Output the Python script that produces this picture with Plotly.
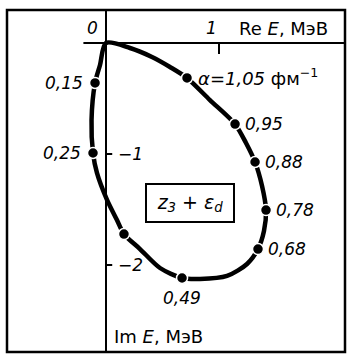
import plotly.graph_objects as go

# Trajectory of the three-body pole z3 + eps_d in the complex energy plane (MeV)
alpha_labels = ["1,05", "0,95", "0,88", "0,78", "0,68", "0,49", "", "0,25", "0,15"]
dot_re = [0.717, 1.142, 1.319, 1.416, 1.345, 0.673, 0.159, -0.115, -0.097]
dot_im = [-0.315, -0.730, -1.072, -1.505, -1.856, -2.117, -1.721, -0.991, -0.360]

# Points along the drawn curve, starting and ending at the origin
curve_re = [0.0, 0.212, 0.407, 0.566, 0.717, 0.920, 1.142, 1.239, 1.319, 1.381, 1.416,
            1.398, 1.345, 1.248, 1.071, 0.832, 0.673, 0.478, 0.301, 0.159, 0.097,
            0.009, -0.080, -0.115, -0.128, -0.097, -0.053, 0.0]
curve_im = [0.0, -0.045, -0.126, -0.216, -0.315, -0.514, -0.730, -0.901, -1.072, -1.288,
            -1.505, -1.694, -1.856, -1.991, -2.099, -2.126, -2.117, -2.027, -1.856,
            -1.721, -1.595, -1.414, -1.171, -0.991, -0.694, -0.360, -0.198, 0.0]

re_ticks = [0, 1]
re_tick_labels = ["0", "1"]
im_ticks = [-1, -2]
im_tick_labels = ["\u22121", "\u22122"]

W, H = 350, 356
# pixel calibration of the plotting plane
X0, XS = 106, 113
Y0, YS = 43, 111
xr = [(0 - X0) / XS, (W - X0) / XS]
yr = [-(H - Y0) / YS, Y0 / YS]

FONT = "DejaVu Sans"
fs = 17
INK = "black"


def f(size=fs):
    return dict(size=size, family=FONT, color=INK)


fig = go.Figure()
fig.add_trace(go.Scatter(x=curve_re, y=curve_im, mode="lines",
                         line=dict(color=INK, width=4.5, shape="spline", smoothing=0.8),
                         hoverinfo="skip", showlegend=False))
fig.add_trace(go.Scatter(x=dot_re, y=dot_im, mode="markers",
                         marker=dict(color=INK, size=11, line=dict(color="white", width=1.5)),
                         showlegend=False))

shapes = []
# outer frame
shapes.append(dict(type="rect", xref="paper", yref="paper",
                   x0=7 / W, x1=345 / W, y0=1 - 352 / H, y1=1 - 10 / H,
                   line=dict(color=INK, width=2.5)))
# imaginary axis
shapes.append(dict(type="line", xref="x", yref="paper", x0=0, x1=0,
                   y0=1 - 352 / H, y1=1 - 10 / H, line=dict(color=INK, width=2)))
# real axis
shapes.append(dict(type="line", xref="x", yref="y", x0=-0.2, x1=(345 - X0) / XS,
                   y0=0, y1=0, line=dict(color=INK, width=2)))
for t in re_ticks[1:]:
    shapes.append(dict(type="line", x0=t, x1=t, y0=0, y1=-0.1,
                       line=dict(color=INK, width=2)))
for t in im_ticks:
    shapes.append(dict(type="line", x0=0, x1=0.055, y0=t, y1=t,
                       line=dict(color=INK, width=2)))

ann = []
for t, lab in zip(re_ticks, re_tick_labels):
    ann.append(dict(x=t, y=0, text=f"<i>{lab}</i>", showarrow=False,
                    xanchor="right", yanchor="bottom", xshift=-6 if t == 0 else 0,
                    yshift=3, font=f()))
for t, lab in zip(im_ticks, im_tick_labels):
    ann.append(dict(x=0.085, y=t, text=f"<i>{lab}</i>", showarrow=False,
                    xanchor="left", yanchor="middle", font=f()))

ann.append(dict(x=1.16, y=0, text="Re <i>E</i>, МэВ", showarrow=False,
                xanchor="left", yanchor="bottom", yshift=2, font=f(18)))
ann.append(dict(x=0.05, y=-2.64, text="Im <i>E</i>, МэВ", showarrow=False,
                xanchor="left", yanchor="middle", font=f(18)))

for i, lab in enumerate(alpha_labels):
    if not lab:
        continue
    x, y = dot_re[i], dot_im[i]
    if i == 0:
        ann.append(dict(x=x, y=y, text=f"<i>α</i>=<i>{lab}</i> фм<sup>−1</sup>",
                        showarrow=False, xanchor="left", yanchor="middle",
                        xshift=9, yshift=1, font=f(18)))
    elif x < 0:
        ann.append(dict(x=x, y=y, text=f"<i>{lab}</i>", showarrow=False,
                        xanchor="right", yanchor="middle", xshift=-10, font=f()))
    elif y < -2:
        ann.append(dict(x=x, y=y, text=f"<i>{lab}</i>", showarrow=False,
                        xanchor="center", yanchor="middle", yshift=-20, font=f()))
    else:
        ann.append(dict(x=x, y=y, text=f"<i>{lab}</i>", showarrow=False,
                        xanchor="left", yanchor="middle", xshift=8, font=f()))

# boxed label of the pole
ann.append(dict(x=(190 - X0) / XS, y=-(203 - Y0) / YS,
                text="<i>z<sub>3</sub></i> + <i>ε<sub>d</sub></i>", showarrow=False,
                xanchor="center", yanchor="middle", width=86, height=36,
                bordercolor=INK, borderwidth=2, borderpad=0, font=f(19)))

fig.update_layout(
    width=W, height=H, margin=dict(l=0, r=0, t=0, b=0),
    paper_bgcolor="white", plot_bgcolor="white",
    xaxis=dict(range=xr, visible=False, fixedrange=True),
    yaxis=dict(range=yr, visible=False, fixedrange=True),
    shapes=shapes, annotations=ann, showlegend=False,
)
fig.write_html("out.html")
